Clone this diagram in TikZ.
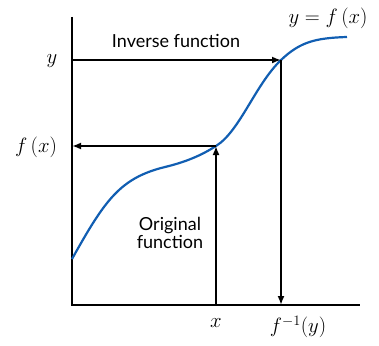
\documentclass[tikz,border=0pt]{standalone}
\usepackage{fontspec}
\newfontfamily\labelsans{Lato}
\usetikzlibrary{arrows.meta}
\definecolor{curveblue}{RGB}{17,94,178}
\begin{document}
\begin{tikzpicture}[x=1pt,y=-1pt,
  axis/.style={line width=1.3pt,black},
  guide/.style={line width=2.2pt,black,-{Latex[length=9pt,width=7pt]}},
  mathlbl/.style={font=\fontsize{21}{24}\selectfont,inner sep=0pt},
  txtlbl/.style={font=\labelsans\fontsize{18}{20}\selectfont,align=center,inner sep=0pt}]
\useasboundingbox (0,0) rectangle (379,345);
\coordinate (O) at (72,305);
\coordinate (top) at (72,17);
\coordinate (right) at (360,305);
\coordinate (yl) at (72,60);
\coordinate (fl) at (72,146);
\coordinate (P) at (216,146);
\coordinate (Q) at (281,60);
\coordinate (xb) at (216,305);
\coordinate (qb) at (281,305);
\draw[axis] (top) -- (O) -- (right);
\draw[curveblue,line width=2.2pt] (72,259) .. controls (105,200) and (120,178) .. (165,167)
  .. controls (190,161) and (205,153) .. (P)
  .. controls (240,131) and (255,85) .. (Q)
  .. controls (300,42) and (315,38) .. (347,37);
\draw[guide] (yl) -- (Q);
\draw[guide] (P) -- (fl);
\draw[guide] (xb) -- (P);
\draw[guide] (Q) -- (qb);
\node[mathlbl] (ylab) at (52,61) {$y$};
\node[mathlbl] (flab) at (36,147) {$f\,(x)$};
\node[mathlbl] (xlab) at (216,323) {$x$};
\node[mathlbl] (qlab) at (298,327) {$f^{-1}(y)$};
\node[mathlbl] (curvelab) at (328,18) {$y = f\,(x)$};
\node[txtlbl] (inv) at (176,41) {Inverse function};
\node[txtlbl] (orig) at (170,233) {Original\\[-2pt]function};
\end{tikzpicture}
\end{document}
